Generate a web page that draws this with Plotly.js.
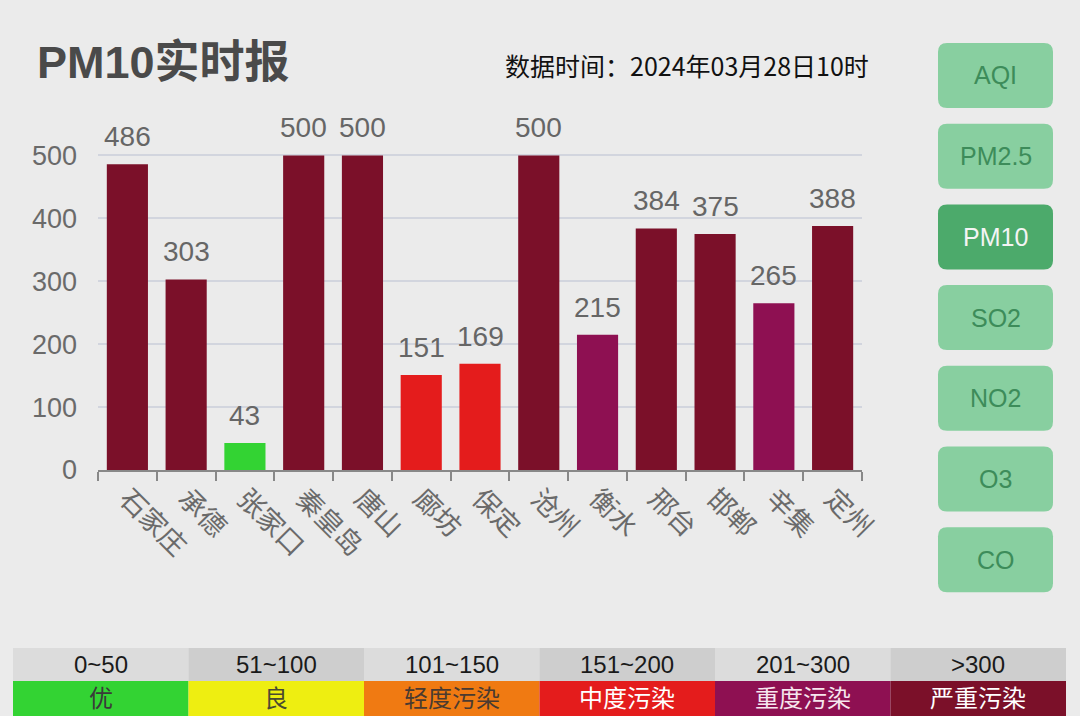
<!DOCTYPE html>
<html>
<head>
<meta charset="utf-8">
<script src="https://cdn.plot.ly/plotly-3.0.1.min.js"></script>
<style>
html,body{margin:0;padding:0;background:#ebebeb;}
#chart{width:1080px;height:716px;}
</style>
</head>
<body>
<div id="chart"></div>
<script>
// ---- data ----
const cities = ['石家庄','承德','张家口','秦皇岛','唐山','廊坊','保定','沧州','衡水','邢台','邯郸','辛集','定州'];
const pm10 = [486, 303, 43, 500, 500, 151, 169, 500, 215, 384, 375, 265, 388];
const yTicks = [0, 100, 200, 300, 400, 500];
const levelMax = [50, 100, 150, 200, 300, Infinity];
const levelRanges = ['0~50', '51~100', '101~150', '151~200', '201~300', '>300'];
const levelNames = ['优', '良', '轻度污染', '中度污染', '重度污染', '严重污染'];
const levelColors = ['#33d333', '#eeee11', '#f07a12', '#e41c1c', '#8e1052', '#7b1029'];
const levelTextColors = ['#3a3a3a', '#4a4a30', '#4a3a30', '#ffffff', '#f6e6ee', '#ffffff'];
const buttons = ['AQI', 'PM2.5', 'PM10', 'SO2', 'NO2', 'O3', 'CO'];
const activeButton = 'PM10';
const titleText = 'PM10实时报';
const dateText = '数据时间：2024年03月28日10时';

// ---- layout geometry (pixels) ----
const W = 1080, H = 716, L = 98, R = 862, T = 124, B = 470;
const X = p => (p - L) / (R - L);
const Y = p => (B - p) / (B - T);

function levelOf(v){ for (let i = 0; i < levelMax.length; i++) if (v <= levelMax[i]) return i; return levelMax.length - 1; }
const barColors = pm10.map(v => levelColors[levelOf(v)]);

function rrect(x0, y0, x1, y1, r){
  return `M ${X(x0+r)},${Y(y0)} L ${X(x1-r)},${Y(y0)} Q ${X(x1)},${Y(y0)} ${X(x1)},${Y(y0+r)} ` +
         `L ${X(x1)},${Y(y1-r)} Q ${X(x1)},${Y(y1)} ${X(x1-r)},${Y(y1)} ` +
         `L ${X(x0+r)},${Y(y1)} Q ${X(x0)},${Y(y1)} ${X(x0)},${Y(y1-r)} ` +
         `L ${X(x0)},${Y(y0+r)} Q ${X(x0)},${Y(y0)} ${X(x0+r)},${Y(y0)} Z`;
}

const FONT = 'Liberation Sans, Arial, "Noto Sans CJK SC", sans-serif';
const CJK = '"Noto Sans CJK SC", "Liberation Sans", sans-serif';

const shapes = [];
const annotations = [];

// value labels above bars
cities.forEach((c, i) => {
  annotations.push({
    x: c, y: pm10[i], xref: 'x', yref: 'y', text: String(pm10[i]),
    showarrow: false, yanchor: 'bottom', yshift: 10,
    font: {family: FONT, size: 28, color: '#666666'}
  });
});

// date text
annotations.push({
  x: X(503), y: Y(65), xref: 'paper', yref: 'paper', xanchor: 'left', yanchor: 'middle',
  text: dateText, showarrow: false,
  font: {family: CJK, size: 25, color: '#111111'}
});

// side buttons
const btnX0 = 938, btnX1 = 1053, btnH = 65, btnTop0 = 43, btnPitch = 80.7;
buttons.forEach((b, i) => {
  const y0 = btnTop0 + i * btnPitch, y1 = y0 + btnH;
  const active = b === activeButton;
  shapes.push({type: 'path', xref: 'paper', yref: 'paper', path: rrect(btnX0, y0, btnX1, y1, 9),
    fillcolor: active ? '#4caa6b' : '#88cfa0', line: {width: 0}});
  annotations.push({x: X((btnX0 + btnX1) / 2), y: Y((y0 + y1) / 2), xref: 'paper', yref: 'paper',
    xanchor: 'center', yanchor: 'middle', text: b, showarrow: false,
    font: {family: FONT, size: 25, color: active ? '#f4f4f4' : '#3d8c5a'}});
});

// bottom level legend
const lgX0 = 13, lgX1 = 1066, rowTop = 648, rowMid = 681, rowBot = 716;
const colW = (lgX1 - lgX0) / levelRanges.length;
levelRanges.forEach((r, i) => {
  const x0 = lgX0 + i * colW, x1 = x0 + colW;
  shapes.push({type: 'rect', xref: 'paper', yref: 'paper', x0: X(x0), x1: X(x1), y0: Y(rowTop), y1: Y(rowMid),
    fillcolor: i % 2 === 0 ? '#dcdcdc' : '#cecece', line: {width: 0}});
  shapes.push({type: 'rect', xref: 'paper', yref: 'paper', x0: X(x0), x1: X(x1), y0: Y(rowMid), y1: Y(rowBot + 2),
    fillcolor: levelColors[i], line: {width: 0}});
  annotations.push({x: X((x0 + x1) / 2), y: Y((rowTop + rowMid) / 2), xref: 'paper', yref: 'paper',
    xanchor: 'center', yanchor: 'middle', text: r, showarrow: false,
    font: {family: FONT, size: 24, color: '#1a1a1a'}});
  annotations.push({x: X((x0 + x1) / 2), y: Y(rowBot - 1), xref: 'paper', yref: 'paper',
    xanchor: 'center', yanchor: 'bottom', text: levelNames[i], showarrow: false, borderpad: 0,
    font: {family: CJK, size: 24, color: levelTextColors[i]}});
});

const trace = {
  type: 'bar', x: cities, y: pm10,
  marker: {color: barColors, line: {width: 0}},
  hoverinfo: 'skip'
};

const layout = {
  width: W, height: H,
  margin: {l: L, r: W - R, t: T, b: H - B, pad: 0},
  paper_bgcolor: '#ebebeb', plot_bgcolor: '#ebebeb',
  showlegend: false,
  bargap: 0.30,
  title: {
    text: '<b>' + titleText + '</b>',
    xref: 'container', yref: 'container',
    x: 37 / W, xanchor: 'left', y: 1 - 62 / H, yanchor: 'middle',
    font: {family: FONT, size: 45, color: '#4a4a4a'}
  },
  xaxis: {
    type: 'category', range: [-0.5, cities.length - 0.5], fixedrange: true,
    showline: true, linecolor: '#888888', linewidth: 2,
    ticks: 'outside', tickson: 'boundaries', ticklen: 9, tickwidth: 2, tickcolor: '#888888',
    tickangle: 45, showgrid: false,
    tickfont: {family: CJK, size: 27, color: '#6a6a6a'}
  },
  yaxis: {
    range: [0, 550], fixedrange: true,
    tickvals: yTicks, ticktext: yTicks.map(String),
    showgrid: true, gridcolor: '#d2d5de', gridwidth: 2, zeroline: false,
    showline: false, ticks: '', ticklabelstandoff: 20,
    tickfont: {family: FONT, size: 27, color: '#6a6a6a'}
  },
  shapes: shapes,
  annotations: annotations
};

Plotly.newPlot('chart', [trace], layout, {displayModeBar: false, staticPlot: true});
</script>
</body>
</html>
